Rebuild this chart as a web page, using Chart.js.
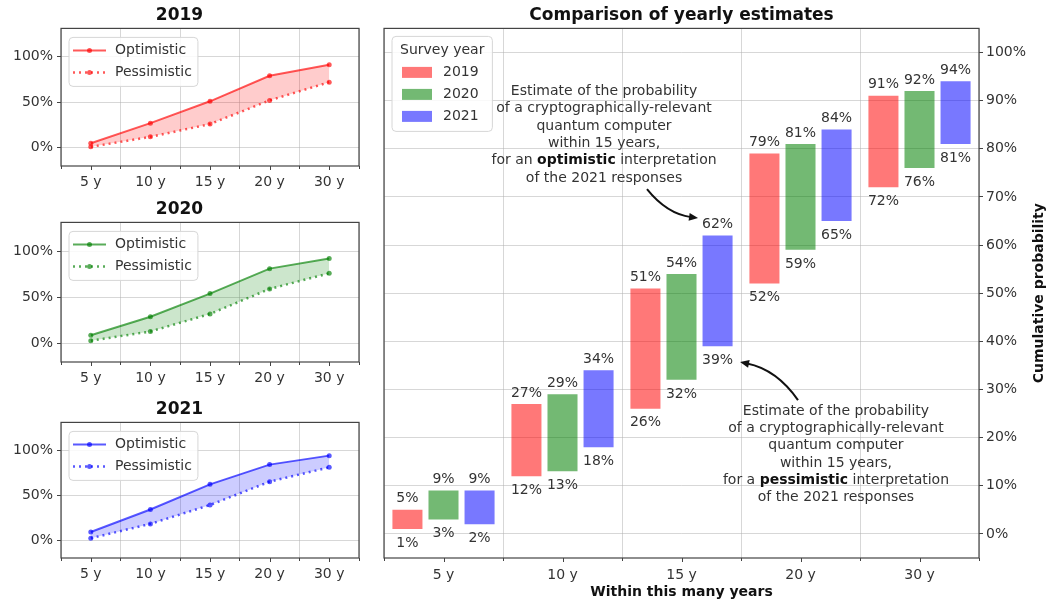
<!DOCTYPE html>
<html><head><meta charset="utf-8">
<script src="https://cdn.jsdelivr.net/npm/chart.js@4.4.1/dist/chart.umd.min.js"></script>
<style>
html,body{margin:0;padding:0;background:#fff;width:1046px;height:602px;overflow:hidden;position:relative}
canvas{position:absolute;display:block}
</style></head><body>
<canvas id="c2019" style="left:0px;top:0px" width="370" height="196"></canvas>
<canvas id="c2020" style="left:0px;top:194px" width="370" height="198"></canvas>
<canvas id="c2021" style="left:0px;top:394px" width="370" height="194"></canvas>
<canvas id="cMain" style="left:370px;top:0px" width="676" height="602"></canvas>
<script>
// ---------- DATA ----------
const categories = ['5 y', '10 y', '15 y', '20 y', '30 y'];
const surveyYears = ['2019', '2020', '2021'];
const optimistic2019 = [5, 27, 51, 79, 91];
const pessimistic2019 = [1, 12, 26, 52, 72];
const optimistic2020 = [9, 29, 54, 81, 92];
const pessimistic2020 = [3, 13, 32, 59, 76];
const optimistic2021 = [9, 34, 62, 84, 94];
const pessimistic2021 = [2, 18, 39, 65, 81];
const smallYTicks = [0, 50, 100];
const mainYTicks = [0, 10, 20, 30, 40, 50, 60, 70, 80, 90, 100];
const seriesLabels = ['Optimistic', 'Pessimistic'];
const mainTitle = 'Comparison of yearly estimates';
const xAxisTitle = 'Within this many years';
const yAxisTitle = 'Cumulative probability';
const legendTitle = 'Survey year';
const noteOptimistic = [
  [['Estimate of the probability', false]],
  [['of a cryptographically-relevant', false]],
  [['quantum computer', false]],
  [['within 15 years,', false]],
  [['for an ', false], ['optimistic', true], [' interpretation', false]],
  [['of the 2021 responses', false]]
];
const notePessimistic = [
  [['Estimate of the probability', false]],
  [['of a cryptographically-relevant', false]],
  [['quantum computer', false]],
  [['within 15 years,', false]],
  [['for a ', false], ['pessimistic', true], [' interpretation', false]],
  [['of the 2021 responses', false]]
];

// ---------- STYLE ----------
const FONT = '"DejaVu Sans", "Liberation Sans", sans-serif';
Chart.defaults.font.family = FONT;
Chart.defaults.color = '#333';
const GRID = 'rgba(176,176,176,0.5)';
const lineColors = ['rgba(255,0,0,0.65)', 'rgba(0,128,0,0.65)', 'rgba(0,0,255,0.65)'];
const fillColors = ['rgba(255,0,0,0.2)', 'rgba(0,128,0,0.2)', 'rgba(0,0,255,0.2)'];
const barColors = ['rgba(255,0,0,0.53)', 'rgba(0,128,0,0.55)', 'rgba(0,0,255,0.53)'];

// ---------- PLUGINS ----------
const framePlugin = {
  id: 'frame',
  afterDatasetsDraw(chart) {
    const {ctx, chartArea: a} = chart;
    ctx.save();
    ctx.strokeStyle = '#444';
    ctx.lineWidth = 1.2;
    ctx.strokeRect(a.left, a.top, a.right - a.left, a.bottom - a.top);
    // major tick marks at category centres
    const sx = chart.scales.x;
    ctx.lineWidth = 1;
    ctx.beginPath();
    chart.data.labels.forEach((l, i) => {
      const px = Math.round(sx.getPixelForValue(i)) + 0.5;
      ctx.moveTo(px, a.bottom); ctx.lineTo(px, a.bottom + 4);
    });
    ctx.stroke();
    ctx.restore();
  }
};

function roundRect(ctx, x, y, w, h, r) {
  ctx.beginPath();
  ctx.moveTo(x + r, y);
  ctx.lineTo(x + w - r, y);
  ctx.arcTo(x + w, y, x + w, y + r, r);
  ctx.lineTo(x + w, y + h - r);
  ctx.arcTo(x + w, y + h, x + w - r, y + h, r);
  ctx.lineTo(x + r, y + h);
  ctx.arcTo(x, y + h, x, y + h - r, r);
  ctx.lineTo(x, y + r);
  ctx.arcTo(x, y, x + r, y, r);
  ctx.closePath();
}

const boxLegend = {
  id: 'boxLegend',
  afterDraw(chart, args, o) {
    const {ctx, chartArea: a} = chart;
    const ds = chart.data.datasets;
    ctx.save();
    ctx.font = '14px ' + FONT;
    let maxW = 0;
    ds.forEach(d => { maxW = Math.max(maxW, ctx.measureText(d.label).width); });
    let w = o.padL + o.sampleW + o.gap + maxW + o.padR;
    if (o.title) w = Math.max(w, ctx.measureText(o.title).width + 16);
    const h = o.firstRow + (ds.length - 1) * o.rowH + o.bottomPad;
    const x = a.left + o.dx, y = a.top + o.dy;
    roundRect(ctx, x, y, w, h, 4);
    ctx.fillStyle = 'rgba(255,255,255,0.85)';
    ctx.fill();
    ctx.strokeStyle = '#d6d6d6';
    ctx.lineWidth = 1;
    ctx.stroke();
    ctx.textBaseline = 'middle';
    if (o.title) {
      ctx.fillStyle = '#333';
      ctx.textAlign = 'center';
      ctx.fillText(o.title, x + w / 2, y + o.titleY);
    }
    ds.forEach((d, i) => {
      const cy = y + o.firstRow + i * o.rowH;
      const sx = x + o.padL;
      if (o.kind === 'line') {
        ctx.strokeStyle = d.borderColor;
        ctx.lineWidth = d.borderWidth;
        ctx.setLineDash(d.borderDash || []);
        ctx.beginPath();
        ctx.moveTo(sx, cy); ctx.lineTo(sx + o.sampleW, cy);
        ctx.stroke();
        ctx.setLineDash([]);
        ctx.fillStyle = d.borderColor;
        ctx.beginPath();
        ctx.arc(sx + o.sampleW / 2, cy, 2.5, 0, Math.PI * 2);
        ctx.fill();
      } else {
        ctx.fillStyle = d.backgroundColor;
        ctx.fillRect(sx, cy - o.sampleH / 2, o.sampleW, o.sampleH);
      }
      ctx.fillStyle = '#333';
      ctx.textAlign = 'left';
      ctx.fillText(d.label, sx + o.sampleW + o.gap, cy);
    });
    ctx.restore();
  }
};

const barLabels = {
  id: 'barLabels',
  afterDatasetsDraw(chart) {
    const {ctx} = chart;
    const y = chart.scales.y;
    ctx.save();
    ctx.font = '14px ' + FONT;
    ctx.fillStyle = '#333';
    ctx.textAlign = 'center';
    ctx.textBaseline = 'middle';
    chart.data.datasets.forEach((d, di) => {
      chart.getDatasetMeta(di).data.forEach((bar, i) => {
        const [lo, hi] = d.data[i];
        ctx.fillText(hi + '%', bar.x, y.getPixelForValue(hi) - 11);
        ctx.fillText(lo + '%', bar.x, y.getPixelForValue(lo) + 14);
      });
    });
    ctx.restore();
  }
};

const sideTitle = {
  id: 'sideTitle',
  afterDraw(chart, args, o) {
    const {ctx, chartArea: a} = chart;
    ctx.save();
    ctx.translate(o.x, (a.top + a.bottom) / 2);
    ctx.rotate(-Math.PI / 2);
    ctx.font = 'bold 14px ' + FONT;
    ctx.fillStyle = '#111';
    ctx.textAlign = 'center';
    ctx.textBaseline = 'middle';
    ctx.fillText(o.text, 0, 0);
    ctx.restore();
  }
};

const notes = {
  id: 'notes',
  afterDatasetsDraw(chart, args, o) {
    const {ctx} = chart;
    const sx = chart.scales.x, sy = chart.scales.y;
    ctx.save();
    ctx.textBaseline = 'middle';
    ctx.fillStyle = '#333';
    o.items.forEach(it => {
      const cx = sx.getPixelForValue(it.x);
      const y0 = sy.getPixelForValue(it.y);
      it.lines.forEach((segs, li) => {
        let total = 0;
        segs.forEach(([t, b]) => { ctx.font = (b ? 'bold ' : '') + '14px ' + FONT; total += ctx.measureText(t).width; });
        let px = cx - total / 2;
        ctx.textAlign = 'left';
        segs.forEach(([t, b]) => {
          ctx.font = (b ? 'bold ' : '') + '14px ' + FONT;
          ctx.fillStyle = b ? '#111' : '#333';
          ctx.fillText(t, px, y0 + li * o.lineH);
          px += ctx.measureText(t).width;
        });
      });
      // curved arrow (arc3-like)
      const x1 = sx.getPixelForValue(it.from[0]), y1 = sy.getPixelForValue(it.from[1]);
      const x2 = sx.getPixelForValue(it.to[0]), y2 = sy.getPixelForValue(it.to[1]);
      const dx = x2 - x1, dy = -(y2 - y1);
      const mx = (x1 + x2) / 2, my = (y1 + y2) / 2;
      const cxp = mx + o.rad * dy, cyp = my + o.rad * dx;
      const ang = Math.atan2(y2 - cyp, x2 - cxp);
      const hl = 9, hw = 4;
      const ex = x2 - Math.cos(ang) * hl * 0.8, ey = y2 - Math.sin(ang) * hl * 0.8;
      ctx.strokeStyle = '#111';
      ctx.lineWidth = 2;
      ctx.beginPath();
      ctx.moveTo(x1, y1);
      ctx.quadraticCurveTo(cxp, cyp, ex, ey);
      ctx.stroke();
      ctx.fillStyle = '#111';
      ctx.beginPath();
      ctx.moveTo(x2, y2);
      ctx.lineTo(x2 - Math.cos(ang) * hl - Math.sin(ang) * hw, y2 - Math.sin(ang) * hl + Math.cos(ang) * hw);
      ctx.lineTo(x2 - Math.cos(ang) * hl + Math.sin(ang) * hw, y2 - Math.sin(ang) * hl - Math.cos(ang) * hw);
      ctx.closePath();
      ctx.fill();
    });
    ctx.restore();
  }
};

// ---------- SMALL CHARTS ----------
function smallChart(id, title, idx, opt, pess) {
  new Chart(document.getElementById(id), {
    type: 'line',
    data: {
      labels: categories,
      datasets: [
        {label: seriesLabels[0], data: opt, borderColor: lineColors[idx], backgroundColor: fillColors[idx],
         fill: '+1', borderWidth: 2, pointRadius: 2.5, pointBorderWidth: 0, pointBackgroundColor: lineColors[idx], tension: 0},
        {label: seriesLabels[1], data: pess, borderColor: lineColors[idx], backgroundColor: fillColors[idx],
         fill: false, borderWidth: 2.5, borderDash: [2, 4], pointRadius: 2.5, pointBorderWidth: 0, pointBackgroundColor: lineColors[idx], tension: 0}
      ]
    },
    options: {
      responsive: false, animation: false, devicePixelRatio: 1,
      layout: {padding: {left: 0, right: 11, top: 0, bottom: 0}},
      plugins: {
        legend: {display: false}, tooltip: {enabled: false},
        title: {display: true, text: title, color: '#111', font: {size: 17, weight: 'bold'}, padding: {top: 5, bottom: 3}},
        boxLegend: {kind: 'line', dx: 8, dy: 9, padL: 4, sampleW: 33, gap: 9, padR: 6, firstRow: 13, rowH: 22, bottomPad: 14}
      },
      scales: {
        x: {
          type: 'category', offset: true,
          grid: {offset: true, color: GRID, tickColor: '#444', tickLength: 3},
          border: {display: false},
          ticks: {font: {size: 14}, color: '#333', padding: 5, maxRotation: 0},
          afterFit: s => { s.height = 30; }
        },
        y: {
          min: -20, max: 131,
          grid: {color: GRID, tickColor: '#444', tickLength: 4},
          border: {display: false},
          afterBuildTicks: s => { s.ticks = smallYTicks.map(v => ({value: v})); },
          ticks: {font: {size: 14}, color: '#333', padding: 4, callback: v => v + '%'},
          afterFit: s => { s.width = 61; }
        }
      }
    },
    plugins: [framePlugin, boxLegend]
  });
}
smallChart('c2019', surveyYears[0], 0, optimistic2019, pessimistic2019);
smallChart('c2020', surveyYears[1], 1, optimistic2020, pessimistic2020);
smallChart('c2021', surveyYears[2], 2, optimistic2021, pessimistic2021);

// ---------- MAIN CHART ----------
const optAll = [optimistic2019, optimistic2020, optimistic2021];
const pessAll = [pessimistic2019, pessimistic2020, pessimistic2021];
new Chart(document.getElementById('cMain'), {
  type: 'bar',
  data: {
    labels: categories,
    datasets: surveyYears.map((yr, k) => ({
      label: yr,
      data: categories.map((c, i) => [pessAll[k][i], optAll[k][i]]),
      backgroundColor: barColors[k],
      borderWidth: 0,
      categoryPercentage: 0.909,
      barPercentage: 0.833
    }))
  },
  options: {
    responsive: false, animation: false, devicePixelRatio: 1,
    layout: {padding: {left: 14, right: 0, top: 0, bottom: 0}},
    plugins: {
      legend: {display: false}, tooltip: {enabled: false},
      title: {display: true, text: mainTitle, color: '#111', fullSize: false, font: {size: 17, weight: 'bold'}, padding: {top: 5, bottom: 3}},
      boxLegend: {kind: 'box', title: legendTitle, titleY: 14, dx: 8, dy: 8, padL: 10, sampleW: 30, sampleH: 11, gap: 11, padR: 11, firstRow: 36, rowH: 22, bottomPad: 15},
      sideTitle: {text: yAxisTitle, x: 669},
      notes: {
        lineH: 17.3, rad: 0.2,
        items: [
          {x: 1.349, y: 91.9, lines: noteOptimistic, from: [1.71, 71.6], to: [2.139, 65.6]},
          {x: 3.298, y: 25.5, lines: notePessimistic, from: [2.979, 27.8], to: [2.492, 35.7]}
        ]
      }
    },
    scales: {
      x: {
        type: 'category', offset: true,
        grid: {offset: true, color: GRID, tickColor: '#444', tickLength: 3},
        border: {display: false},
        ticks: {font: {size: 14}, color: '#333', padding: 6, maxRotation: 0},
        title: {display: true, text: xAxisTitle, color: '#111', font: {size: 14, weight: 'bold'}, padding: {top: 0, bottom: 1}},
        afterFit: s => { s.height = 44; }
      },
      y: {
        position: 'right', min: -5, max: 105,
        grid: {color: GRID, tickColor: '#444', tickLength: 4},
        border: {display: false},
        afterBuildTicks: s => { s.ticks = mainYTicks.map(v => ({value: v})); },
        ticks: {font: {size: 14}, color: '#333', padding: 3, callback: v => v + '%'},
        afterFit: s => { s.width = 67; }
      }
    }
  },
  plugins: [framePlugin, barLabels, notes, sideTitle, boxLegend]
});
</script>
</body></html>
